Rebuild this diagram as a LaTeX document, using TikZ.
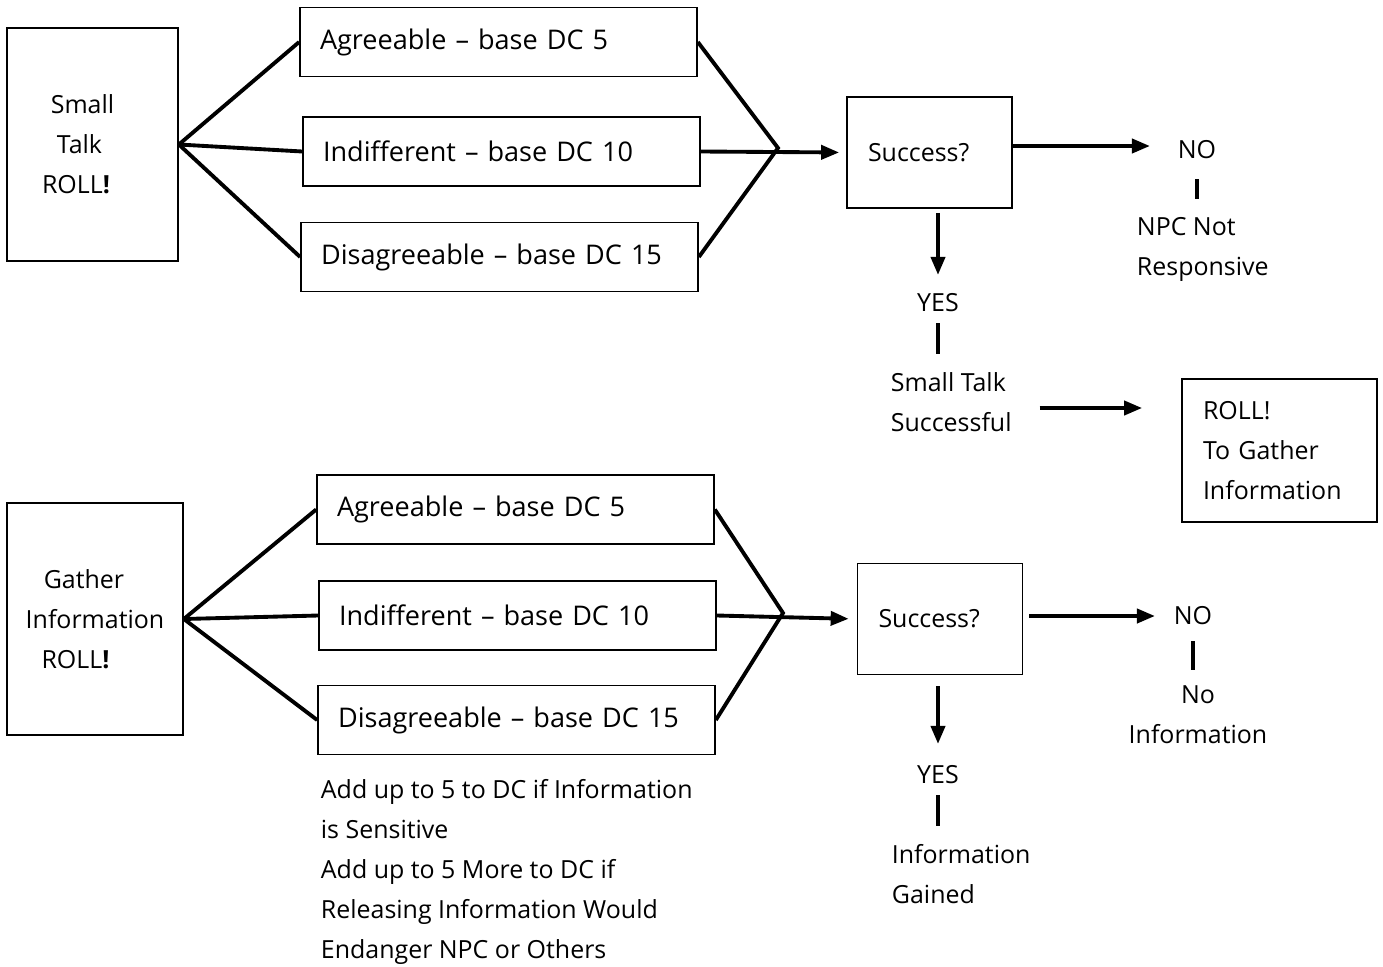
\documentclass[tikz,border=0pt]{standalone}
\usepackage{fontspec}
\setmainfont{Open Sans}
\usetikzlibrary{arrows.meta}
\begin{document}
\begin{tikzpicture}[
     x = 0.02cm,
     y = -0.02cm,
     >={Triangle[length=0.36cm,width=0.28cm]},
     line width = 2.2pt
    ]
    \tikzstyle{box}=[draw, line width=1pt, inner xsep=0.42cm, align=left, font=\fontsize{14.2}{22.76}\selectfont]
    \tikzstyle{roll}=[box, align=center, inner xsep=0.1cm]
    \tikzstyle{dc}=[box, inner xsep=0.4cm, minimum height=1.38cm, text width=7.14cm, font=\fontsize{15.4}{18}\selectfont]
    \tikzstyle{check}=[box, minimum height=2.22cm, text width=2.46cm]
    \tikzstyle{txt}=[inner sep=0, align=left, font=\fontsize{14.2}{22.76}\selectfont]

    \useasboundingbox (0,0) rectangle (1383,967);

    \node[roll, minimum width=3.42cm, minimum height=4.66cm] (talk) at (92.5,144.5) {\mbox{Small\kern0.4cm}\\\mbox{Talk\kern0.52cm}\\\mbox{ROLL\textbf{!}\kern0.66cm}};
    \node[dc] (agree1) at (498.5,42) {Agreeable -- base DC 5};
    \node[dc] (indiff1) at (501.5,151.5) {Indifferent -- base DC 10};
    \node[dc] (disagree1) at (499.5,257) {Disagreeable -- base DC 15};
    \coordinate (join1) at (778,148);
    \node[check] (success1) at (929.5,152.5) {Success?};
    \node[txt] (no1) at (1197,150) {NO};
    \node[txt, anchor=west] (npc1) at (1135,249) {NPC Not\\Responsive};
    \node[txt] (yes1) at (938,303) {YES};
    \node[txt, anchor=west] (talkok) at (889,402) {Small Talk\\Successful};
    \node[box, minimum height=2.86cm, text width=3.06cm] (next) at (1279.5,450.5) {ROLL!\\To Gather\\Information};

    \draw (talk.east) -- (agree1.west);
    \draw (talk.east) -- (indiff1.west);
    \draw (talk.east) -- (disagree1.west);
    \draw (agree1.east) -- (join1) -- (disagree1.east);
    \draw[->, shorten >=0.14cm] (indiff1.east) -- (success1.west);
    \draw[->, shorten >=0.52cm] ([yshift=0.08cm]success1.east |- no1) -- ([yshift=0.08cm]no1.west);
    \draw[shorten <=0.36cm, shorten >=0.32cm] (no1.south) -- (no1.south |- npc1.north);
    \draw[->, shorten <=0.08cm, shorten >=0.34cm] (success1.south -| yes1) -- (yes1.north);
    \draw[shorten <=0.18cm, shorten >=0.32cm] (yes1.south) -- (yes1.south |- talkok.north);
    \draw[->, shorten <=0.52cm, shorten >=0.78cm] ([yshift=-0.12cm]talkok.east) -- ([yshift=-0.12cm]talkok.east -| next.west);

    \node[roll, minimum width=3.52cm, minimum height=4.64cm] (gather) at (95,619) {\mbox{Gather\kern0.44cm}\\Information\\\mbox{ROLL\textbf{!}\kern0.78cm}};
    \node[dc] (agree2) at (515.5,509.5) {Agreeable -- base DC 5};
    \node[dc] (indiff2) at (517.5,615.5) {Indifferent -- base DC 10};
    \node[dc] (disagree2) at (516.5,720) {Disagreeable -- base DC 15};
    \coordinate (join2) at (783,613);
    \node[check] (success2) at (940,619) {Success?};
    \node[txt] (no2) at (1193,616) {NO};
    \node[txt, align=center] (noinfo) at (1198,715) {No\\Information};
    \node[txt] (yes2) at (938,775) {YES};
    \node[txt, anchor=west] (gained) at (890,874) {Information\\Gained};
    \node[txt, anchor=west] (note) at (319,871.5) {Add up to 5 to DC if Information\\is Sensitive\\Add up to 5 More to DC if\\Releasing Information Would\\Endanger NPC or Others};

    \draw (gather.east) -- (agree2.west);
    \draw (gather.east) -- (indiff2.west);
    \draw (gather.east) -- (disagree2.west);
    \draw (agree2.east) -- (join2) -- (disagree2.east);
    \draw[->, shorten >=0.16cm] (indiff2.east) -- (success2.west);
    \draw[->, shorten <=0.12cm, shorten >=0.34cm] (success2.east |- no2) -- (no2.west);
    \draw[shorten <=0.28cm, shorten >=0.28cm] (no2.south) -- (no2.south |- noinfo.north);
    \draw[->, shorten <=0.22cm, shorten >=0.4cm] (success2.south -| yes2) -- (yes2.north);
    \draw[shorten <=0.18cm, shorten >=0.32cm] (yes2.south) -- (yes2.south |- gained.north);
   \end{tikzpicture}
\end{document}
